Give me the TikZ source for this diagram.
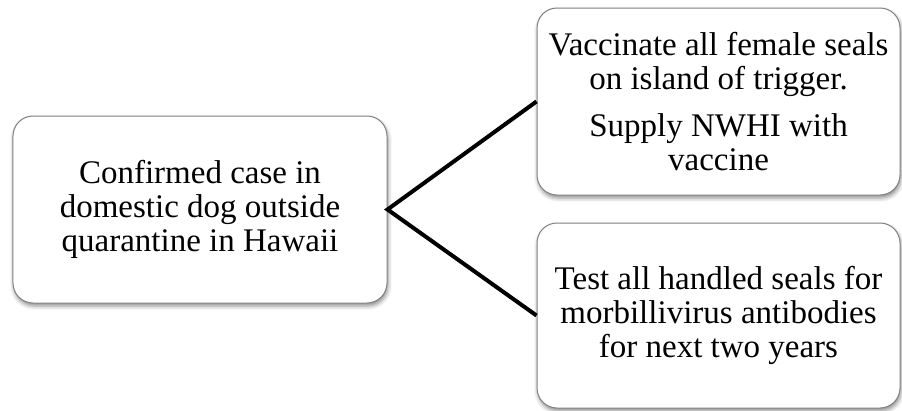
\documentclass[tikz,border=0pt]{standalone}
\usepackage{fontspec}
\setmainfont{Liberation Serif}
\usetikzlibrary{shadows.blur}
\tikzset{
  stepbox/.style={draw=black!50, line width=1bp, fill=white, rounded corners=20bp,
    align=center, inner sep=0pt,
    font=\fontsize{33bp}{34bp}\selectfont,
    blur shadow={shadow xshift=1bp, shadow yshift=-3bp, shadow blur radius=4bp, shadow opacity=45}},
  link/.style={line width=4bp, black, line join=miter}
}
\begin{document}
\begin{tikzpicture}[x=1bp,y=-1bp]
\useasboundingbox (0,0) rectangle (902,410);
\node[stepbox, minimum width=374bp, minimum height=187bp] (L) at (200,209.5)
  {Confirmed case in\\domestic dog outside\\quarantine in Hawaii};
\node[stepbox, minimum width=363bp, minimum height=187bp] (T) at (718.5,101.5)
  {Vaccinate all female seals\\on island of trigger.\\[13bp]Supply NWHI with\\vaccine};
\node[stepbox, minimum width=363bp, minimum height=185bp] (B) at (718.5,315.5)
  {Test all handled seals for\\morbillivirus antibodies\\for next two years};
\draw[link] (T.west) -- (L.east) -- (B.west);
\end{tikzpicture}
\end{document}
